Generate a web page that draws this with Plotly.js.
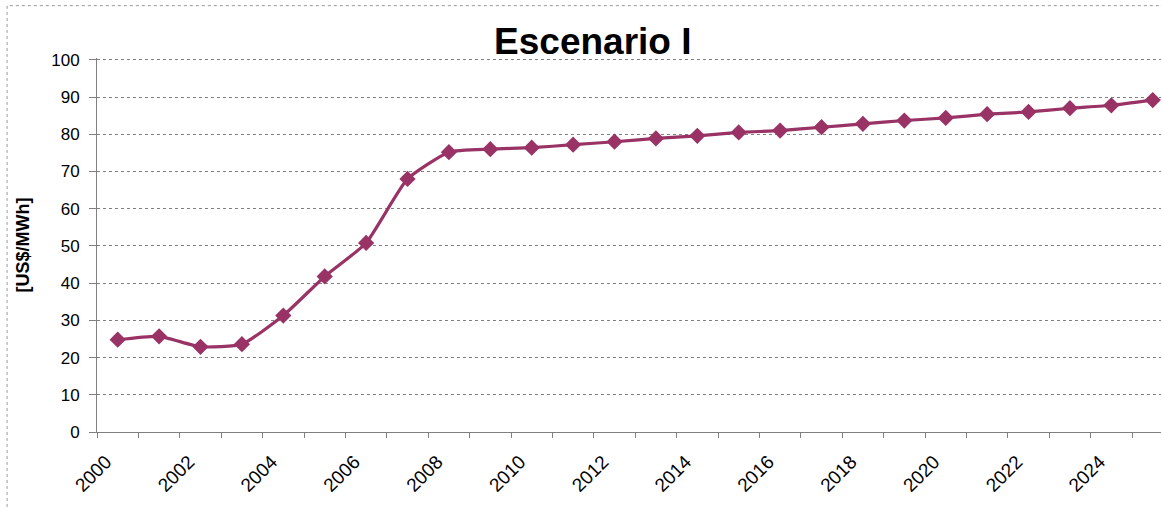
<!DOCTYPE html>
<html>
<head>
<meta charset="utf-8">
<script src="https://cdn.plot.ly/plotly-3.0.1.min.js"></script>
<style>html,body{margin:0;padding:0;background:#fff}#chart{width:1162px;height:507px}</style>
</head>
<body>
<div id="chart"></div>
<script>
const years = [2000,2001,2002,2003,2004,2005,2006,2007,2008,2009,2010,2011,2012,2013,2014,2015,2016,2017,2018,2019,2020,2021,2022,2023,2024,2025];
const prices = [24.8,25.7,22.9,23.6,31.3,41.8,50.8,68.0,75.2,76.0,76.4,77.2,78.0,78.9,79.6,80.5,81.0,81.9,82.8,83.7,84.4,85.4,86.0,87.0,87.8,89.2];
const tickYears = [2000,2001,2002,2003,2004,2005,2006,2007,2008,2009,2010,2011,2012,2013,2014,2015,2016,2017,2018,2019,2020,2021,2022,2023,2024,2025];
const labelYears = [2000,2002,2004,2006,2008,2010,2012,2014,2016,2018,2020,2022,2024];
const labelTexts = ["2000","2002","2004","2006","2008","2010","2012","2014","2016","2018","2020","2022","2024"];

const font = "Arial, 'Liberation Sans', sans-serif";
const xPos = years.map(y => y + 0.5);
const xRange = [2000, 2025.7];

const trace = {
  x: xPos, y: prices, type: 'scatter', mode: 'lines+markers',
  line: {color: '#993366', width: 3.2, shape: 'spline', smoothing: 0.5},
  marker: {symbol: 'diamond', size: 12.5, color: '#993366'},
  hoverinfo: 'x+y', showlegend: false
};

const layout = {
  width: 1162, height: 507,
  margin: {l: 97, r: 1, t: 58, b: 75, pad: 0},
  paper_bgcolor: '#ffffff', plot_bgcolor: '#ffffff',
  font: {family: font, color: '#000000', size: 16},
  title: {text: '<b>Escenario I</b>', font: {family: font, size: 37, color: '#000'},
          x: 0.466, xref: 'paper', xanchor: 'center', y: 0.92, yref: 'container', yanchor: 'middle'},
  xaxis: {
    range: xRange, tickmode: 'array', tickvals: tickYears, showticklabels: false,
    ticks: 'outside', ticklen: 5, tickcolor: '#808080', tickwidth: 1,
    showgrid: false, zeroline: false, showline: true, linecolor: '#808080', linewidth: 1
  },
  xaxis2: {
    overlaying: 'x', anchor: 'y', side: 'bottom', range: xRange,
    tickmode: 'array', tickvals: labelYears.map(y => y + 0.22), ticktext: labelTexts,
    tickangle: -45, ticks: '', showgrid: false, zeroline: false, showline: false,
    ticklabelstandoff: 14,
    tickfont: {family: font, size: 19, color: '#000'}
  },
  yaxis: {
    range: [0, 100.5], tickmode: 'array', tickvals: [0,10,20,30,40,50,60,70,80,90,100],
    ticks: 'outside', ticklen: 7, tickcolor: '#808080',
    showgrid: true, gridcolor: '#808080', griddash: 'dot', gridwidth: 1,
    zeroline: false, showline: true, linecolor: '#808080', linewidth: 1,
    ticklabelstandoff: 6,
    tickfont: {family: font, size: 17, color: '#000'},
    title: {text: '<b>[US$/MWh]</b>', font: {family: font, size: 18, color: '#000'}, standoff: 16}
  },
  shapes: [
    {type: 'rect', xref: 'paper', yref: 'paper', x0: -0.0845, x1: 1.01, y0: -0.22, y1: 1.14,
     line: {color: '#999999', width: 1, dash: 'dot'}, fillcolor: 'rgba(0,0,0,0)', layer: 'below'}
  ]
};

Plotly.newPlot('chart', [trace, {x: [], y: [], xaxis: 'x2', yaxis: 'y', showlegend: false, hoverinfo: 'skip'}], layout, {displayModeBar: false, staticPlot: true});
</script>
</body>
</html>
